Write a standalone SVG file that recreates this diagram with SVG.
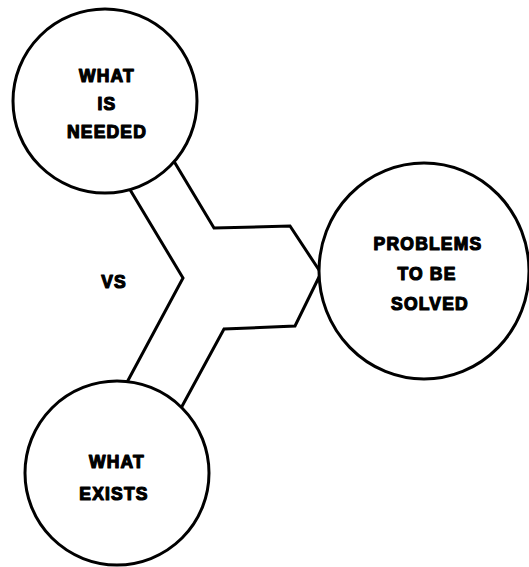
<svg xmlns="http://www.w3.org/2000/svg" width="529" height="567" viewBox="0 0 529 567">
  <style>
    .bubble { fill: #fff; stroke: #000; stroke-width: 3; }
    .pipe { fill: none; stroke: #000; stroke-width: 3; stroke-linejoin: miter; }
    .lbl { font-family: "Liberation Sans", Arial, sans-serif; font-weight: bold; font-size: 17.5px; letter-spacing: 1.2px; text-anchor: middle; fill: #000; stroke: #000; stroke-width: 1.2; stroke-linejoin: round; }
  </style>
  <rect width="529" height="567" fill="#fff"/>

  <!-- Y-shaped channel joining the two inputs into the output -->
  <g id="connectors">
    <polyline class="pipe" points="172,158 214,228 290,226 321,273"/>
    <polyline class="pipe" points="129,188 183,278 125,386"/>
    <polyline class="pipe" points="321,273 295,326 224,329 180,410"/>
  </g>

  <g id="what-is-needed">
    <circle class="bubble" cx="105" cy="101" r="92"/>
    <text class="lbl" x="107" y="82">WHAT</text>
    <text class="lbl" x="107" y="110">IS</text>
    <text class="lbl" x="107" y="138">NEEDED</text>
  </g>

  <g id="vs">
    <text class="lbl" x="114" y="288">VS</text>
  </g>

  <g id="problems-to-be-solved">
    <ellipse class="bubble" cx="424" cy="271" rx="105" ry="108"/>
    <text class="lbl" x="428" y="250">PROBLEMS</text>
    <text class="lbl" x="427" y="280">TO BE</text>
    <text class="lbl" x="430" y="310">SOLVED</text>
  </g>

  <g id="what-exists">
    <circle class="bubble" cx="117" cy="473" r="92"/>
    <text class="lbl" x="117" y="468">WHAT</text>
    <text class="lbl" x="114" y="500">EXISTS</text>
  </g>
</svg>
